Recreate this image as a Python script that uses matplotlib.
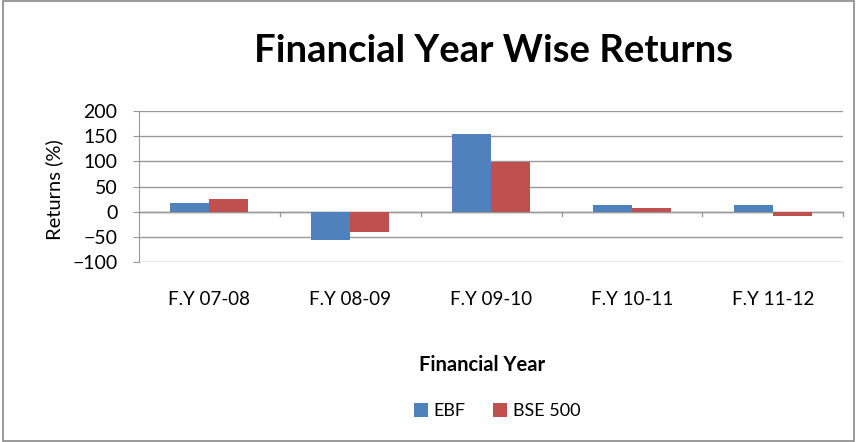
import numpy as np
import matplotlib.pyplot as plt
from matplotlib.patches import Rectangle

# data
years = ["F.Y 07-08", "F.Y 08-09", "F.Y 09-10", "F.Y 10-11", "F.Y 11-12"]
ebf = [18, -57, 154, 13, 13]
bse500 = [25, -41, 99, 7, -8]

plt.rcParams['font.family'] = ['Lato', 'DejaVu Sans']

fig = plt.figure(figsize=(8.57, 4.42), dpi=100)
ax = fig.add_axes([0.162, 0.407, 0.822, 0.342])

x = np.arange(len(years))
w = 0.277
ax.bar(x - w / 2, ebf, w, color="#4F81BD", label="EBF", zorder=3)
ax.bar(x + w / 2, bse500, w, color="#C0504D", label="BSE 500", zorder=3)

ax.set_xlim(-0.5, len(years) - 0.5)
ax.set_ylim(-100, 200)
ax.set_yticks(range(-100, 201, 50))
ax.yaxis.grid(True, color="#999999", linewidth=1, zorder=0)
ax.tick_params(axis='y', labelsize=14, length=4.5, color="#999999", pad=11)

# category labels below the plot, tick marks on the zero line
ax.set_xticks(x)
ax.set_xticklabels(years, fontsize=13.5)
ax.tick_params(axis='x', length=0, pad=21)
for b in np.arange(-0.5, len(years), 1.0)[1:]:
    ax.plot([b, b], [0, -8], color="#999999", lw=1, zorder=2, clip_on=False)
ax.axhline(0, color="#999999", lw=1, zorder=2)

for s in ["top", "right", "bottom"]:
    ax.spines[s].set_visible(False)
ax.spines["left"].set_color("#999999")

ax.set_ylabel("Returns (%)", fontsize=14.5)
ax.yaxis.set_label_coords(-0.108, 0.48)
ax.set_xlabel("Financial Year", fontsize=14.5, fontweight="bold")
ax.xaxis.set_label_coords(0.487, -0.616)

fig.text(0.576, 0.885, "Financial Year Wise Returns", ha="center", va="center",
         fontsize=27.5, fontweight="bold")

fig.legend(loc="center", bbox_to_anchor=(0.58, 0.07), ncol=2, frameon=False,
           fontsize=13, handlelength=0.8, handleheight=0.8, columnspacing=1.5,
           handletextpad=0.3)

fig.patches.append(Rectangle((0.003, 0.003), 0.994, 0.994, transform=fig.transFigure,
                             fill=False, edgecolor="#888888", lw=1.2))

fig.savefig("out.png", dpi=100)
